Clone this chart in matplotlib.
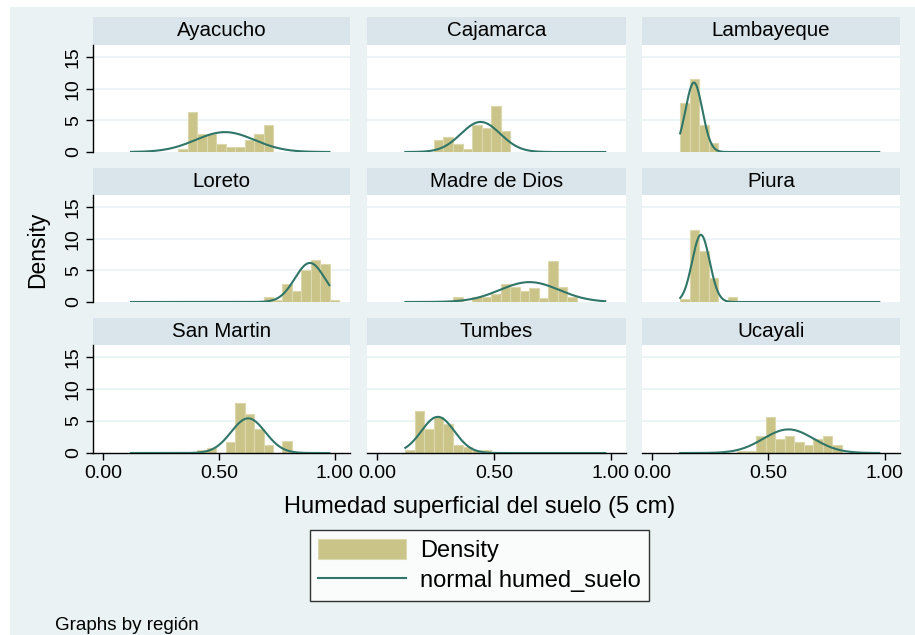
import numpy as np
import matplotlib
matplotlib.use('Agg')
import matplotlib.pyplot as plt
from matplotlib.patches import Rectangle, Patch
from matplotlib.lines import Line2D

plt.rcParams['font.family'] = ['Liberation Sans', 'DejaVu Sans']

# histograma de humedad por región (densidad por bin) + normal ajustada
regiones = ['Ayacucho', 'Cajamarca', 'Lambayeque',
            'Loreto', 'Madre de Dios', 'Piura',
            'San Martin', 'Tumbes', 'Ucayali']

# bins comunes para todas las regiones
bin_inicio = 0.121
bin_ancho = 0.0408

# índice del primer bin con datos en cada región
primer_bin = [5, 3, 0, 14, 5, 0, 7, 0, 6]

densidad = [
    [0.5, 6.3, 2.8, 2.8, 1.3, 0.8, 0.8, 1.9, 2.8, 4.3],
    [1.9, 2.35, 1.3, 0.5, 4.3, 3.8, 7.2, 3.3],
    [7.7, 11.5, 4.3, 1.45],
    [0.85, 0.3, 2.8, 1.75, 5.1, 6.6, 6.0, 0.3],
    [0.85, 0.0, 0.85, 0.85, 1.2, 2.8, 2.3, 1.7, 2.2, 0.7, 6.5, 2.3, 0.85],
    [0.4, 11.4, 8.0, 3.8, 0.0, 0.85],
    [0.4, 0.8, 0.0, 1.7, 7.9, 6.1, 3.7, 1.3, 0.0, 1.8],
    [0.4, 6.6, 3.7, 5.7, 4.6, 1.2, 0.9, 0.4, 0.4],
    [0.3, 0.3, 2.7, 5.6, 2.2, 2.7, 1.7, 1.3, 2.2, 2.7, 1.3],
]

# media y desviación de humed_suelo por región
media = [0.526, 0.443, 0.180, 0.892, 0.652, 0.210, 0.626, 0.260, 0.586]
desv = [0.127, 0.084, 0.0364, 0.0647, 0.127, 0.0376, 0.0736, 0.0705, 0.108]

# rango total de la variable (para la curva normal)
x_min, x_max = 0.121, 0.976

xticks = [0.0, 0.5, 1.0]
xticklabels = ['0.00', '0.50', '1.00']
yticks = [0, 5, 10, 15]

BG = '#eaf2f3'
STRIP = '#d9e5ea'
BAR = '#cbc489'
BAR_EDGE = '#dcd8ae'
LINEA = '#2f7568'

W, H = 915, 635
fig = plt.figure(figsize=(W / 100, H / 100), dpi=100)
fig.patch.set_facecolor('white')
fig.patches.append(Rectangle((10 / W, 0), 1 - 10 / W, 1 - 7 / H,
                             transform=fig.transFigure, facecolor=BG,
                             edgecolor='none', zorder=-10))


def caja(l, t, r, b):
    return [l / W, 1 - b / H, (r - l) / W, (b - t) / H]


col_x = [(93, 350), (367, 626), (642, 900)]
fila_y = [(17, 45, 152), (168, 195, 302), (318, 345, 453)]

xs = np.linspace(x_min, x_max, 300)

for i, reg in enumerate(regiones):
    fila, col = divmod(i, 3)
    l, r = col_x[col]
    st, pt, pb = fila_y[fila]

    # franja del título
    axs = fig.add_axes(caja(l, st, r, pt))
    axs.set_facecolor(STRIP)
    axs.set_xticks([])
    axs.set_yticks([])
    for s in axs.spines.values():
        s.set_visible(False)
    axs.text(0.5, 0.5, reg, ha='center', va='center', fontsize=14.8,
             transform=axs.transAxes)

    ax = fig.add_axes(caja(l, pt, r, pb))
    ax.set_facecolor('white')
    ax.set_xlim(-0.043, 1.065)
    ax.set_ylim(0, 16.9)
    for y in [5, 10, 15]:
        ax.axhline(y, color=BG, lw=1.2, zorder=0)

    alturas = np.array(densidad[i])
    bordes = bin_inicio + bin_ancho * (primer_bin[i] + np.arange(len(alturas)))
    ax.bar(bordes, alturas, width=bin_ancho, align='edge', color=BAR,
           edgecolor=BAR_EDGE, linewidth=0.8, zorder=2)

    pdf = np.exp(-0.5 * ((xs - media[i]) / desv[i]) ** 2) / (desv[i] * np.sqrt(2 * np.pi))
    ax.plot(xs, pdf, color=LINEA, lw=1.5, zorder=3)

    for s in ['top', 'right']:
        ax.spines[s].set_visible(False)

    if col == 0:
        ax.spines['left'].set_color('black')
        ax.spines['left'].set_linewidth(1.0)
        ax.set_yticks(yticks)
        ax.set_yticklabels([str(v) for v in yticks], rotation=90,
                           va='center', fontsize=14)
        ax.tick_params(axis='y', length=5, width=1.0, pad=3)
    else:
        ax.spines['left'].set_visible(False)
        ax.set_yticks([])

    if fila == 2:
        ax.spines['bottom'].set_color('black')
        ax.spines['bottom'].set_linewidth(1.0)
        ax.set_xticks(xticks)
        ax.set_xticklabels(xticklabels, fontsize=14)
        ax.tick_params(axis='x', length=5, width=1.0, pad=4)
    else:
        ax.spines['bottom'].set_visible(False)
        ax.set_xticks([])

fig.text(38 / W, 1 - 250 / H, 'Density', rotation=90, ha='center',
         va='center', fontsize=16.5)
fig.text(480 / W, 1 - 507 / H, 'Humedad superficial del suelo (5 cm)',
         ha='center', va='center', fontsize=17)
fig.text(55 / W, 1 - 625 / H, 'Graphs by región', ha='left',
         va='center', fontsize=13.5)

handles = [Patch(facecolor=BAR, edgecolor=BAR_EDGE, linewidth=0.8),
           Line2D([], [], color=LINEA, lw=1.5)]
leg = fig.legend(handles, ['Density', 'normal humed_suelo'],
                 loc='center', bbox_to_anchor=(479.5 / W, 1 - 565.5 / H),
                 fontsize=17, frameon=True, fancybox=False,
                 edgecolor='black', handlelength=3.75, handleheight=0.95,
                 handletextpad=0.6, borderpad=0.35, labelspacing=0.3,
                 borderaxespad=0)
leg.get_frame().set_linewidth(1.0)
leg.get_frame().set_facecolor('white')

fig.savefig('out.png', dpi=100)
